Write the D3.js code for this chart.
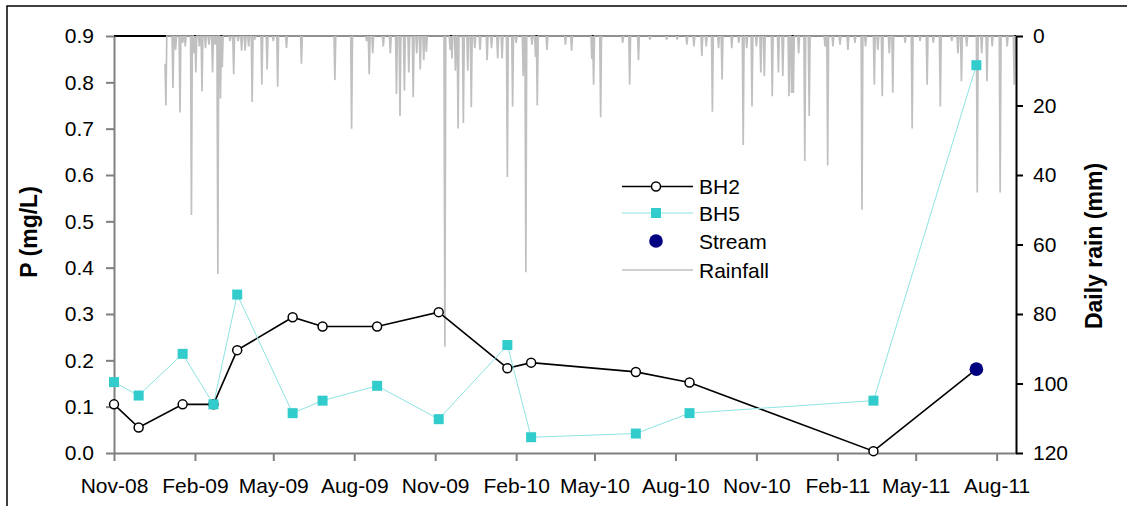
<!DOCTYPE html>
<html>
<head>
<meta charset="utf-8">
<script src="https://cdn.jsdelivr.net/npm/d3@7"></script>
<style>
  html, body { margin: 0; padding: 0; background: #fff; }
  svg { display: block; font-family: "Liberation Sans", Arial, sans-serif; }
</style>
</head>
<body>
<svg id="chart" width="1127" height="506"></svg>
<script>
// ---- Sampling dates and phosphorus concentrations (mg/L) ----
const sampleDates = ["2008-11-01","2008-11-29","2009-01-18","2009-02-22","2009-03-21",
  "2009-05-23","2009-06-26","2009-08-27","2009-11-05","2010-01-22","2010-02-18",
  "2010-06-17","2010-08-17","2011-03-14","2011-07-09"];
const bh2Values = [0.105,0.055,0.105,0.105,0.222,0.293,0.273,0.273,0.304,0.183,0.195,0.175,0.152,0.004];
const bh5Values = [0.153,0.124,0.214,0.105,0.342,0.086,0.113,0.145,0.073,0.233,0.034,0.042,0.086,0.113,0.837];
const streamDates = ["2011-07-09"];
const streamValues = [0.181];

// ---- Daily rainfall record (mm); days not listed were dry ----
const rainStart = "2008-12-29";
const rainEnd = "2011-08-22";
const rainDays = [
  ["2008-12-29",8],["2008-12-30",20],["2009-01-07",15],["2009-01-10",4],["2009-01-15",22],
  ["2009-01-18",2],["2009-01-21",3],["2009-01-28",51.5],["2009-01-31",5],["2009-02-02",10.5],
  ["2009-02-06",3],["2009-02-09",16],["2009-02-13",3.5],["2009-02-17",2.5],["2009-02-21",10.5],
  ["2009-02-24",2.5],["2009-02-27",68.5],["2009-03-02",18],["2009-03-04",9],["2009-03-13",1.5],
  ["2009-03-17",11],["2009-03-22",1.5],["2009-03-26",4.2],["2009-03-30",4.2],["2009-04-03",3],
  ["2009-04-07",19],["2009-04-10",1],["2009-04-18",14],["2009-04-24",9.6],["2009-05-01",1.5],
  ["2009-05-06",14.6],["2009-05-16",3.4],["2009-06-02",8],["2009-07-10",12.7],["2009-07-29",26.7],
  ["2009-08-15",1.5],["2009-08-18",11],["2009-08-22",5],["2009-09-03",3],["2009-09-11",5],
  ["2009-09-18",16.7],["2009-09-22",23],["2009-09-27",15.7],["2009-10-02",10.5],["2009-10-07",17.6],
  ["2009-10-11",5],["2009-10-15",9.6],["2009-10-19",7],["2009-10-22",4.5],["2009-11-12",89.4],
  ["2009-11-18",4],["2009-11-20",6.5],["2009-11-24",10],["2009-11-27",26.6],["2009-12-03",25],
  ["2009-12-08",10],["2009-12-12",20.5],["2009-12-16",3.5],["2009-12-22",4],["2009-12-30",7],
  ["2010-01-04",3.5],["2010-01-11",6.5],["2010-01-16",6.5],["2010-01-22",40.6],["2010-01-28",20.3],
  ["2010-02-01",2],["2010-02-09",11.5],["2010-02-12",68],["2010-02-19",2.5],["2010-02-23",6],
  ["2010-02-25",20],["2010-03-08",4],["2010-03-29",2.5],["2010-04-05",4.2],["2010-04-28",6.6],
  ["2010-04-30",14],["2010-05-08",23.4],["2010-06-02",2],["2010-06-10",14],["2010-06-20",7],
  ["2010-07-03",1],["2010-07-22",1],["2010-08-03",1],["2010-08-14",2.5],["2010-08-22",3],
  ["2010-08-31",5.8],["2010-09-05",3],["2010-09-12",21.8],["2010-09-19",3.5],["2010-09-23",12.5],
  ["2010-10-04",3.5],["2010-10-12",2],["2010-10-17",31.4],["2010-10-21",3.5],["2010-10-27",20.3],
  ["2010-11-01",3],["2010-11-06",10.5],["2010-11-10",11.5],["2010-11-19",17.3],["2010-11-26",10.5],
  ["2010-12-01",11.5],["2010-12-08",17.3],["2010-12-11",16.4],["2010-12-13",16.4],["2010-12-19",5],
  ["2010-12-26",36],["2010-12-31",23],["2011-01-18",3],["2011-01-21",37.3],["2011-01-27",3],
  ["2011-02-04",2.5],["2011-02-13",4],["2011-02-21",2],["2011-03-01",50],["2011-03-05",3],
  ["2011-03-15",14],["2011-03-19",4],["2011-03-24",17.3],["2011-04-01",5],["2011-04-05",16.3],
  ["2011-04-19",2],["2011-04-27",26.6],["2011-05-06",1.5],["2011-05-14",14],["2011-05-21",2],
  ["2011-05-29",20.3],["2011-06-11",1.5],["2011-06-18",5],["2011-06-22",13],["2011-06-28",3],
  ["2011-07-10",45],["2011-07-15",5],["2011-07-21",13],["2011-07-27",3],["2011-08-05",45],
  ["2011-08-13",3],["2011-08-21",14]
];

// ---- Axis ticks ----
const xTickLabels = ["Nov-08","Feb-09","May-09","Aug-09","Nov-09","Feb-10","May-10",
  "Aug-10","Nov-10","Feb-11","May-11","Aug-11"];
const pTicks = [0,0.1,0.2,0.3,0.4,0.5,0.6,0.7,0.8,0.9];
const rainTicks = [0,20,40,60,80,100,120];

const seriesNames = ["BH2","BH5","Stream","Rainfall"];

// ---- Layout ----
const plot = { left: 114, right: 1016, top: 36, bottom: 453 };
const parseDay = d3.timeParse("%Y-%m-%d");
const parseTick = d3.timeParse("%b-%y");
const tickFont = 21;
const sq = 10;

const svg = d3.select("#chart");

// outer frame
svg.append("rect")
  .attr("x", 7).attr("y", 6).attr("width", 1140).attr("height", 520)
  .attr("fill", "none").attr("stroke", "#000").attr("stroke-width", 1.5);

const x = d3.scaleTime()
  .domain([parseDay("2008-11-01"), parseDay("2011-08-23")])
  .range([plot.left, plot.right]);
const yP = d3.scaleLinear().domain([0, 0.9]).range([plot.bottom, plot.top]);
const yRain = d3.scaleLinear().domain([0, 120]).range([plot.top, plot.bottom]);

// top (secondary horizontal) axis line
svg.append("line")
  .attr("x1", plot.left).attr("x2", plot.right)
  .attr("y1", plot.top).attr("y2", plot.top)
  .attr("stroke", "#000").attr("stroke-width", 2);

// daily rainfall, hanging from the top
const rainMap = new Map(rainDays.map(d => [d[0], d[1]]));
const fmtDay = d3.timeFormat("%Y-%m-%d");
const rainSeries = d3.timeDay.range(parseDay(rainStart), d3.timeDay.offset(parseDay(rainEnd), 1))
  .map(d => ({ date: d, mm: rainMap.get(fmtDay(d)) || 0 }));

svg.append("path")
  .datum(rainSeries)
  .attr("fill", "none")
  .attr("stroke", "#c0c0c0")
  .attr("stroke-width", 1.7)
  .attr("stroke-linejoin", "miter")
  .attr("d", d3.line().x(d => x(d.date)).y(d => yRain(d.mm)));

// bottom axis (grey)
const xAxis = d3.axisBottom(x)
  .tickValues(xTickLabels.map(parseTick))
  .tickFormat((d, i) => xTickLabels[i])
  .tickSize(8).tickSizeOuter(0).tickPadding(17);
const gx = svg.append("g").attr("transform", `translate(0,${plot.bottom})`).call(xAxis);
gx.select(".domain").attr("stroke", "#808080").attr("stroke-width", 2);
gx.selectAll(".tick line").attr("stroke", "#808080").attr("stroke-width", 2);
gx.selectAll(".tick text").attr("font-size", tickFont).attr("fill", "#000")
  .attr("font-family", "Liberation Sans, Arial, sans-serif");

// left axis (grey)
const yAxisL = d3.axisLeft(yP)
  .tickValues(pTicks).tickFormat(d3.format(".1f"))
  .tickSize(8).tickSizeOuter(0).tickPadding(12);
const gyl = svg.append("g").attr("transform", `translate(${plot.left},0)`).call(yAxisL);
gyl.select(".domain").attr("stroke", "#808080").attr("stroke-width", 2);
gyl.selectAll(".tick line").attr("stroke", "#808080").attr("stroke-width", 2);
gyl.selectAll(".tick text").attr("font-size", tickFont).attr("fill", "#000")
  .attr("font-family", "Liberation Sans, Arial, sans-serif");

// right axis (black)
const yAxisR = d3.axisRight(yRain)
  .tickValues(rainTicks)
  .tickSize(7).tickSizeOuter(0).tickPadding(10);
const gyr = svg.append("g").attr("transform", `translate(${plot.right},0)`).call(yAxisR);
gyr.select(".domain").attr("stroke", "#000").attr("stroke-width", 2);
gyr.selectAll(".tick line").attr("stroke", "#000").attr("stroke-width", 2);
gyr.selectAll(".tick text").attr("font-size", tickFont).attr("fill", "#000")
  .attr("font-family", "Liberation Sans, Arial, sans-serif");

// axis titles
svg.append("text")
  .attr("transform", "translate(37,232) rotate(-90)")
  .attr("text-anchor", "middle")
  .attr("font-size", 23).attr("font-weight", "bold")
  .text("P (mg/L)");
svg.append("text")
  .attr("transform", "translate(1102,246) rotate(-90)")
  .attr("text-anchor", "middle")
  .attr("font-size", 23).attr("font-weight", "bold")
  .text("Daily rain (mm)");

// series data
const bh2 = sampleDates.slice(0, bh2Values.length).map((d, i) => ({ date: parseDay(d), v: bh2Values[i] }));
const bh5 = sampleDates.map((d, i) => ({ date: parseDay(d), v: bh5Values[i] }));
const stream = streamDates.map((d, i) => ({ date: parseDay(d), v: streamValues[i] }));

const lineP = d3.line().x(d => x(d.date)).y(d => yP(d.v));

// BH2 line (continues to the stream sample) + open circles
svg.append("path").datum(bh2.concat(stream))
  .attr("fill", "none").attr("stroke", "#000").attr("stroke-width", 1.6)
  .attr("d", lineP);
svg.append("g").selectAll("circle").data(bh2).join("circle")
  .attr("cx", d => x(d.date)).attr("cy", d => yP(d.v)).attr("r", 4.5)
  .attr("fill", "#fff").attr("stroke", "#000").attr("stroke-width", 1.5);

// BH5 line + squares
svg.append("path").datum(bh5)
  .attr("fill", "none").attr("stroke", "#8ee3e3").attr("stroke-width", 1)
  .attr("d", lineP);
svg.append("g").selectAll("rect").data(bh5).join("rect")
  .attr("x", d => x(d.date) - sq / 2).attr("y", d => yP(d.v) - sq / 2)
  .attr("width", sq).attr("height", sq)
  .attr("fill", "#33cccc");

// stream sample
svg.append("g").selectAll("circle").data(stream).join("circle")
  .attr("cx", d => x(d.date)).attr("cy", d => yP(d.v)).attr("r", 6.8)
  .attr("fill", "#000080");

// legend
const lg = svg.append("g").attr("font-size", 21);
const rows = [186.5, 213, 241, 270];
const lx1 = 622, lx2 = 693, lmid = 656;
// BH2
lg.append("line").attr("x1", lx1).attr("x2", lx2).attr("y1", rows[0]).attr("y2", rows[0])
  .attr("stroke", "#000").attr("stroke-width", 1.6);
lg.append("circle").attr("cx", lmid).attr("cy", rows[0]).attr("r", 4.5)
  .attr("fill", "#fff").attr("stroke", "#000").attr("stroke-width", 1.5);
// BH5
lg.append("line").attr("x1", lx1).attr("x2", lx2).attr("y1", rows[1]).attr("y2", rows[1])
  .attr("stroke", "#8ee3e3").attr("stroke-width", 1);
lg.append("rect").attr("x", lmid - sq / 2).attr("y", rows[1] - sq / 2).attr("width", sq).attr("height", sq)
  .attr("fill", "#33cccc");
// Stream
lg.append("circle").attr("cx", lmid).attr("cy", rows[2]).attr("r", 6.8).attr("fill", "#000080");
// Rainfall
lg.append("line").attr("x1", lx1).attr("x2", lx2).attr("y1", rows[3]).attr("y2", rows[3])
  .attr("stroke", "#c0c0c0").attr("stroke-width", 1.7);
lg.selectAll("text.lab").data(seriesNames).join("text")
  .attr("class", "lab")
  .attr("x", 699).attr("y", (d, i) => rows[i] + 7.5)
  .text(d => d);
</script>
</body>
</html>
